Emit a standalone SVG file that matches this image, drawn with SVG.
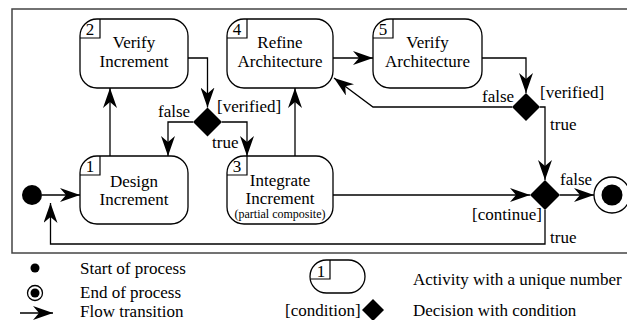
<svg xmlns="http://www.w3.org/2000/svg" width="627" height="320" viewBox="0 0 627 320">
<style>
text{font-family:"Liberation Serif","Times New Roman",serif;font-size:17px;fill:#000}
.c{text-anchor:middle}
.small{font-size:12px}
.node{fill:#fff;stroke:#000;stroke-width:1.3}
.nb{fill:none;stroke:#000;stroke-width:1.2}
.ln{fill:none;stroke:#000;stroke-width:1.3}
.dia{fill:#000}
</style>
<defs>
<marker id="ah" viewBox="0 0 20 14" refX="20" refY="7" markerWidth="20" markerHeight="14" orient="auto" markerUnits="userSpaceOnUse">
<path d="M0,0 L20,7 L0,14 L6,7 Z" fill="#000"/>
</marker>
</defs>
<rect x="12" y="9" width="620" height="244" fill="none" stroke="#444" stroke-width="1.5"/>

<g id="start"><circle cx="32" cy="195" r="10" fill="#000"/></g>
<g id="end"><circle cx="612" cy="195" r="18" fill="#fff" stroke="#000" stroke-width="1.3"/><circle cx="612" cy="195" r="10.5" fill="#000"/></g>

<g id="n2">
<rect class="node" x="80" y="19" width="108" height="69" rx="17"/>
<path class="nb" d="M100,19 V38 H80"/>
<text x="90" y="35" class="c">2</text>
<text x="134" y="48" class="c">Verify</text>
<text x="134" y="67" class="c">Increment</text>
</g>
<g id="n4">
<rect class="node" x="227" y="19" width="106" height="69" rx="17"/>
<path class="nb" d="M247,19 V38 H227"/>
<text x="237" y="35" class="c">4</text>
<text x="280" y="48" class="c">Refine</text>
<text x="280" y="67" class="c">Architecture</text>
</g>
<g id="n5">
<rect class="node" x="373" y="19" width="109" height="69" rx="17"/>
<path class="nb" d="M393,19 V38 H373"/>
<text x="383" y="35" class="c">5</text>
<text x="427.5" y="48" class="c">Verify</text>
<text x="427.5" y="67" class="c">Architecture</text>
</g>
<g id="n1">
<rect class="node" x="80" y="156" width="108" height="68" rx="17"/>
<path class="nb" d="M100,156 V175 H80"/>
<text x="90" y="172" class="c">1</text>
<text x="134" y="187" class="c">Design</text>
<text x="134" y="205" class="c">Increment</text>
</g>
<g id="n3">
<rect class="node" x="227" y="156" width="106" height="68" rx="17"/>
<path class="nb" d="M247,156 V175 H227"/>
<text x="237" y="172" class="c">3</text>
<text x="280" y="186" class="c">Integrate</text>
<text x="280" y="204" class="c">Increment</text>
<text x="280" y="218" class="c small">(partial composite)</text>
</g>

<g id="d1"><path class="dia" d="M207.5,107.5 L222,122 L207.5,136.5 L193,122 Z"/></g>
<g id="d2"><path class="dia" d="M526,93 L540,107 L526,121 L512,107 Z"/></g>
<g id="d3"><path class="dia" d="M545,180 L560,195 L545,210 L530,195 Z"/></g>

<g id="connectors">
<path class="ln" d="M42,195 H80" marker-end="url(#ah)"/>
<path class="ln" d="M110,156 V88" marker-end="url(#ah)"/>
<path class="ln" d="M188,58 H207.5 V107.5" marker-end="url(#ah)"/>
<path class="ln" d="M193,122 H168 V156" marker-end="url(#ah)"/>
<path class="ln" d="M222,122 H247 V156" marker-end="url(#ah)"/>
<path class="ln" d="M295,156 V88" marker-end="url(#ah)"/>
<path class="ln" d="M333,58 H373" marker-end="url(#ah)"/>
<path class="ln" d="M482,58 H526 V93" marker-end="url(#ah)"/>
<path class="ln" d="M512,107 H373 L334,78" marker-end="url(#ah)"/>
<path class="ln" d="M540,107 H545 V180" marker-end="url(#ah)"/>
<path class="ln" d="M333,195 H530" marker-end="url(#ah)"/>
<path class="ln" d="M560,195 H594" marker-end="url(#ah)"/>
<path class="ln" d="M545,210 V244 H50.5 V203" marker-end="url(#ah)"/>
</g>

<g id="labels">
<text x="158" y="117">false</text>
<text x="217" y="112">[verified]</text>
<text x="212" y="148">true</text>
<text x="482" y="102">false</text>
<text x="540" y="98">[verified]</text>
<text x="550" y="130">true</text>
<text x="472" y="220">[continue]</text>
<text x="560" y="185">false</text>
<text x="550" y="243">true</text>
</g>

<g id="legend">
<circle cx="35" cy="268" r="4.5" fill="#000"/>
<text x="80" y="274">Start of process</text>
<circle cx="35" cy="293" r="7.5" fill="#fff" stroke="#000" stroke-width="1.3"/>
<circle cx="35" cy="293" r="4.5" fill="#000"/>
<text x="80" y="298">End of process</text>
<path class="ln" d="M20,313 H53" marker-end="url(#ah)"/>
<text x="80" y="317">Flow transition</text>
<rect class="node" x="310" y="260" width="55" height="33" rx="16.5"/>
<path class="nb" d="M330,260 V279 H311"/>
<text x="321" y="277" class="c">1</text>
<text x="413" y="285">Activity with a unique number</text>
<text x="285" y="316">[condition]</text>
<path class="dia" d="M373,299 L384,310 L373,321 L362,310 Z"/>
<text x="413" y="316">Decision with condition</text>
</g>
</svg>
